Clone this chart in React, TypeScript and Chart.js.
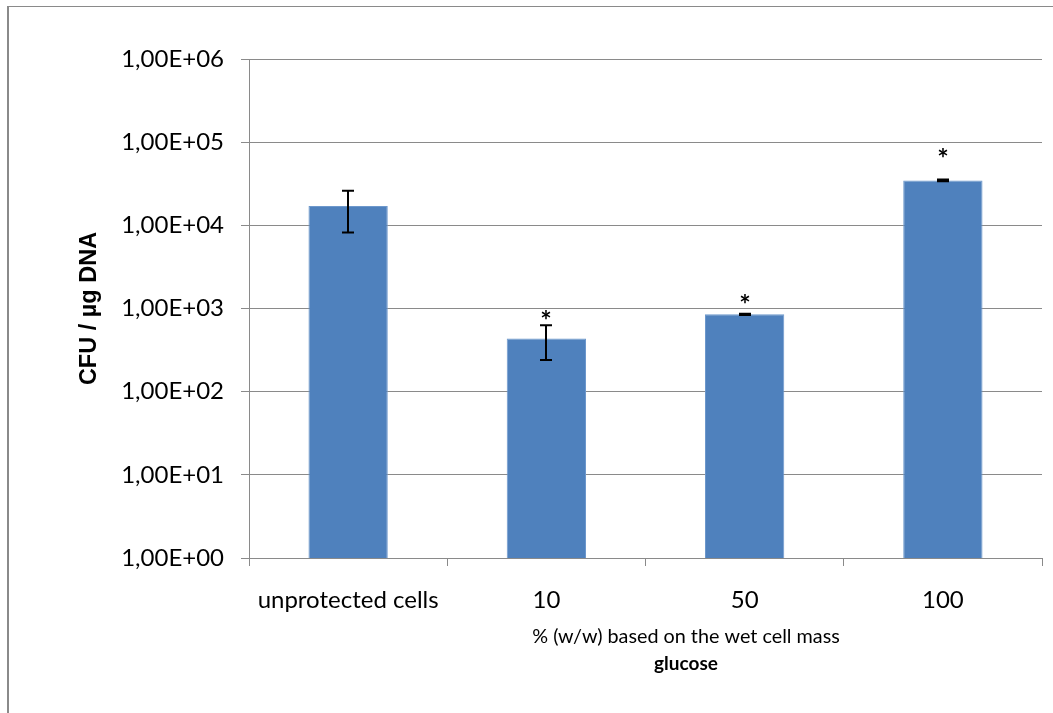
import React, { useEffect, useRef } from 'react';
import { Chart, registerables } from 'chart.js';

Chart.register(...registerables);

// Glucose protection: surviving CFU per µg DNA
const categories = ['unprotected cells', '10', '50', '100'];
const cfuPerUgDna = [17100, 435, 850, 34700];
const cfuError = [8900, 195, 15, 800];
const significant = [false, true, true, true];
const yTickValues = [1, 10, 100, 1000, 10000, 100000, 1000000];

const yTitle = 'CFU / µg DNA';
const xTitle = '% (w/w) based on the wet cell mass';
const xSubTitle = 'glucose';

const LABEL_FONT = 'Lato, "Open Sans", sans-serif';
const BAR_COLOR = '#4f81bd';
const GRID_COLOR = '#8a8a8a';

// Gap in pixels between the top of each error bar and its significance star
const starGap = [0, 10, 15, 27];

function formatSci(v: number): string {
  const exp = Math.round(Math.log10(v));
  const mant = v / Math.pow(10, exp);
  const sign = exp >= 0 ? '+' : '-';
  return mant.toFixed(2).replace('.', ',') + 'E' + sign + String(Math.abs(exp)).padStart(2, '0');
}

const errorBarPlugin = {
  id: 'errorBars',
  afterDatasetsDraw(chart: any) {
    const { ctx } = chart;
    const meta = chart.getDatasetMeta(0);
    const yScale = chart.scales.y;
    ctx.save();
    ctx.strokeStyle = '#000';
    ctx.fillStyle = '#000';
    ctx.lineWidth = 2;
    meta.data.forEach((bar: any, i: number) => {
      const v = cfuPerUgDna[i];
      const e = cfuError[i];
      const top = yScale.getPixelForValue(v + e);
      const bot = yScale.getPixelForValue(Math.max(v - e, 1));
      const x = Math.round(bar.x);
      const cap = 6;
      ctx.beginPath();
      ctx.moveTo(x, top);
      ctx.lineTo(x, bot);
      ctx.moveTo(x - cap, top);
      ctx.lineTo(x + cap, top);
      ctx.moveTo(x - cap, bot);
      ctx.lineTo(x + cap, bot);
      ctx.stroke();
      if (significant[i]) {
        ctx.font = `bold 27px ${LABEL_FONT}`;
        ctx.textAlign = 'center';
        ctx.textBaseline = 'alphabetic';
        const m = ctx.measureText('*');
        const mid = (m.actualBoundingBoxAscent - m.actualBoundingBoxDescent) / 2;
        ctx.fillText('*', x, top - starGap[i] + mid);
      }
    });
    ctx.restore();
  },
};

const titlePlugin = {
  id: 'axisTitles',
  afterDraw(chart: any) {
    const { ctx, chartArea } = chart;
    ctx.save();
    ctx.fillStyle = '#000';
    ctx.textAlign = 'center';
    ctx.textBaseline = 'middle';

    // vertical title left of the value axis
    ctx.save();
    ctx.translate(90, (chartArea.top + chartArea.bottom) / 2);
    ctx.rotate(-Math.PI / 2);
    ctx.font = 'bold 23.5px "Liberation Sans", Arial, sans-serif';
    ctx.fillText(yTitle, 0, 0);
    ctx.restore();

    // two-line category axis title
    const cx = 686;
    ctx.font = `19.8px ${LABEL_FONT}`;
    ctx.fillText(xTitle, cx, chartArea.bottom + 79);
    ctx.font = `bold 19px ${LABEL_FONT}`;
    ctx.fillText(xSubTitle, cx, chartArea.bottom + 106);
    ctx.restore();
  },
};

export default function App() {
  const canvasRef = useRef<HTMLCanvasElement | null>(null);

  useEffect(() => {
    const canvas = canvasRef.current;
    if (!canvas) return;
    const chart = new Chart(canvas, {
      type: 'bar',
      data: {
        labels: categories,
        datasets: [
          {
            data: cfuPerUgDna,
            backgroundColor: BAR_COLOR,
            borderColor: '#6d98cc',
            borderWidth: 1,
            barPercentage: 0.4,
            categoryPercentage: 1,
          },
        ],
      },
      options: {
        animation: false,
        responsive: false,
        maintainAspectRatio: false,
        devicePixelRatio: 1,
        layout: { padding: { left: 0, top: 59, right: 11, bottom: 0 } },
        plugins: {
          legend: { display: false },
          tooltip: { enabled: false },
          title: { display: false },
        },
        scales: {
          x: {
            type: 'category',
            offset: true,
            grid: {
              offset: true,
              drawOnChartArea: false,
              drawTicks: true,
              tickLength: 8,
              color: GRID_COLOR,
              lineWidth: 1,
            },
            border: { display: true, color: GRID_COLOR, width: 1 },
            ticks: {
              color: '#000',
              font: { family: LABEL_FONT, size: 24 },
              padding: 20,
              maxRotation: 0,
              autoSkip: false,
            },
            afterFit(scale: any) {
              scale.height = 155;
            },
          },
          y: {
            type: 'logarithmic',
            min: 1,
            max: 1000000,
            grid: {
              color: GRID_COLOR,
              lineWidth: 1,
              drawTicks: true,
              tickLength: 8,
            },
            border: { display: true, color: GRID_COLOR, width: 1 },
            ticks: {
              color: '#000',
              font: { family: LABEL_FONT, size: 24 },
              padding: 17,
              callback: (v: any) => formatSci(Number(v)),
            },
            afterBuildTicks(scale: any) {
              scale.ticks = yTickValues.map((value) => ({ value, major: true }));
            },
            afterFit(scale: any) {
              scale.width = 249;
            },
          },
        },
      },
      plugins: [errorBarPlugin, titlePlugin],
    });
    return () => chart.destroy();
  }, []);

  return (
    <div
      style={{
        position: 'fixed',
        left: 0,
        top: 0,
        width: 1053,
        height: 713,
        background: '#fff',
        overflow: 'hidden',
      }}
    >
      <div
        style={{
          position: 'absolute',
          left: 7,
          top: 6,
          width: 1100,
          height: 800,
          borderLeft: '2px solid #8a8a8a',
          borderTop: '1px solid #8a8a8a',
        }}
      />
      <canvas
        ref={canvasRef}
        width={1053}
        height={713}
        style={{ position: 'absolute', left: 0, top: 0, width: 1053, height: 713 }}
      />
    </div>
  );
}
